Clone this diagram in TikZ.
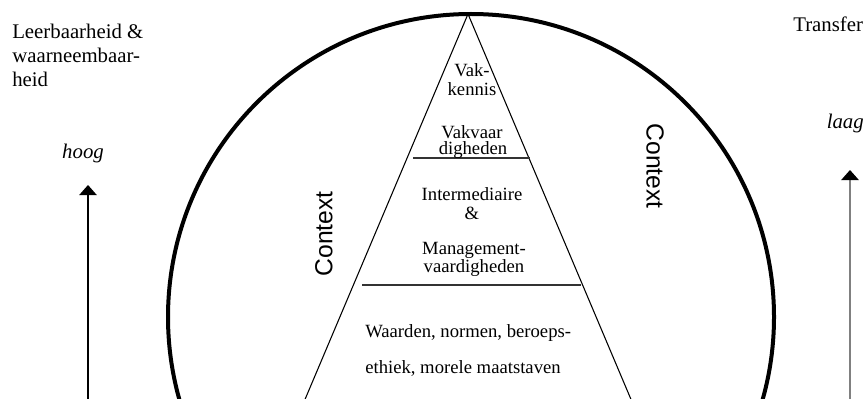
\documentclass[tikz,border=0pt]{standalone}
\usepackage{fontspec}
\setmainfont{Liberation Serif}
\setsansfont{Liberation Sans}
\usetikzlibrary{arrows.meta}

\begin{document}
\begin{tikzpicture}[x=0.75pt,y=-0.75pt,
  axistext/.style={font=\fontsize{15.6}{18}\selectfont, inner sep=0pt, anchor=base west},
  levelword/.style={font=\fontsize{15.6}{18}\selectfont\itshape, inner sep=0pt, anchor=base},
  layertext/.style={font=\fontsize{14}{16}\selectfont, inner sep=0pt, anchor=base},
  contextlabel/.style={font=\fontsize{18.5}{20}\selectfont\sffamily, inner sep=0pt},
  ring/.style={line width=3pt},
  pyramid/.style={line width=0.8pt},
  divider/.style={line width=0.8pt, draw=black!80},
  scalearrow/.style={-{Triangle[width=13pt,length=7.5pt,color=black]}}
]
\useasboundingbox (0,0) rectangle (866,399);
\clip (0,0) rectangle (866,399);

% outer context circle
\node[ring, draw, circle, minimum size=606*0.75pt, inner sep=0pt] (ring) at (471,317) {};

% pyramid
\coordinate (apex) at (468,14);
\coordinate (baseL) at (296.3,420);
\coordinate (baseR) at (639.7,420);
\draw[pyramid] (baseL) -- (apex) -- (baseR);

% layer dividers
\coordinate (d1a) at (413,158);
\coordinate (d1b) at (530,158);
\coordinate (d2a) at (362,285);
\coordinate (d2b) at (581,285);
\draw[divider] (d1a) -- (d1b);
\draw[divider] (d2a) -- (d2b);

% layer texts
\node[layertext] (vak1) at (472,77) {Vak-};
\node[layertext] (vak2) at (472,96) {kennis};
\node[layertext] (vv1) at (472,138) {Vakvaar};
\node[layertext] (vv2) at (473,154) {digheden};
\node[layertext] (im1) at (472,200) {Intermediaire};
\node[layertext] (im2) at (472,219) {\&};
\node[layertext] (im3) at (474,254) {Management-};
\node[layertext] (im4) at (474,272) {vaardigheden};
\node[layertext, anchor=base west] (wn1) at (365,337) {Waarden, normen, beroeps-};
\node[layertext, anchor=base west] (wn2) at (365,373) {ethiek, morele maatstaven};

% context labels
\node[contextlabel, rotate=90] (ctxL) at (324,234) {Context};
\node[contextlabel, rotate=-90] (ctxR) at (655,166) {Context};

% left scale
\node[axistext] (lb1) at (12,39) {Leerbaarheid \&};
\node[axistext] (lb2) at (12,63) {waarneembaar-};
\node[axistext] (lb3) at (12,87) {heid};
\node[levelword] (hoog) at (83,158) {hoog};
\coordinate (lowL) at (88,405);
\coordinate (tipL) at (88,185);
\draw[scalearrow, line width=0.8pt] (lowL) -- (tipL);

% right scale
\node[axistext] (tr) at (793,32) {Transfer};
\node[levelword, anchor=base east] (laag) at (864,128) {laag};
\coordinate (lowR) at (850,405);
\coordinate (tipR) at (850,170);
\draw[scalearrow, line width=1.1pt, draw=black!50] (lowR) -- (tipR);
\end{tikzpicture}
\end{document}
